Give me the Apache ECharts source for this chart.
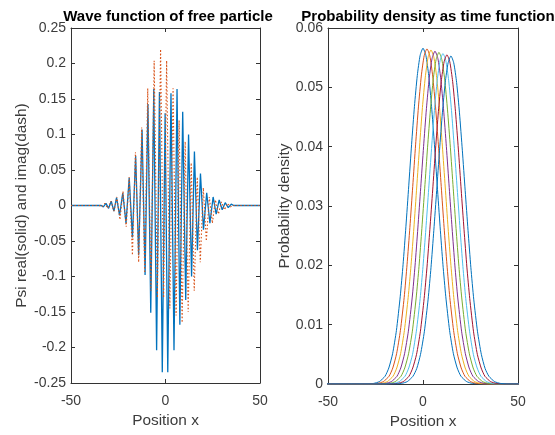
<!DOCTYPE html>
<html><head><meta charset="utf-8">
<script src="https://cdn.jsdelivr.net/npm/echarts/dist/echarts.min.js"></script>
<style>html,body{margin:0;padding:0;background:#fff}#c{width:555px;height:435px}</style>
</head><body><div id="c"></div>
<script>
// ---- Left panel: wave function (real solid, imag dotted) ----
const realX = [-50, -34, -32.9, -31.5, -30.1, -28.7, -27.3, -25.9, -24.3, -22.6, -20.9, -19.2, -17.5, -15.8, -14.2, -12.4, -10.8, -9.3, -7.8, -6.2, -4.7, -3.2, -1.7, -0.2, 1.2, 2.9, 4.5, 6.1, 7.6, 9.1, 10.7, 12.2, 13.8, 15.3, 16.9, 18.5, 20.1, 21.8, 23.5, 25.2, 26.8, 28.4, 30, 31.6, 33.2, 34.8, 36, 50];
const realY = [0, 0, -0.002, 0.003, -0.004, 0.006, -0.008, 0.011, -0.014, 0.018, -0.025, 0.039, -0.045, 0.07, -0.07, 0.107, -0.098, 0.143, -0.151, 0.164, -0.204, 0.16, -0.235, 0.13, -0.235, 0.158, -0.204, 0.164, -0.168, 0.132, -0.133, 0.10, -0.1, 0.076, -0.063, 0.045, -0.034, 0.018, -0.025, 0.012, -0.012, 0.008, -0.006, 0.004, -0.003, 0.002, 0, 0];
const imagX = [-50, -35, -33.7, -32.1, -30.5, -28.9, -27.3, -25.7, -24.1, -22.5, -20.8, -19.2, -17.5, -15.9, -14.2, -12.6, -11.0, -9.4, -7.7, -6.0, -4.3, -2.6, -1.0, 0.6, 2.3, 4.0, 5.6, 7.2, 8.8, 10.4, 12.0, 13.6, 15.2, 16.8, 18.4, 20.0, 21.6, 23.2, 24.8, 26.4, 28.0, 29.6, 31.2, 32.8, 34.4, 35.5, 50];
const imagY = [0, 0, -0.002, 0.003, -0.004, 0.006, -0.008, 0.012, -0.02, 0.02, -0.03, 0.04, -0.07, 0.075, -0.08, 0.11, -0.095, 0.165, -0.12, 0.204, -0.13, 0.22, -0.13, 0.204, -0.145, 0.165, -0.155, 0.12, -0.165, 0.09, -0.15, 0.06, -0.12, 0.04, -0.08, 0.025, -0.05, 0.012, -0.025, 0.008, -0.012, 0.005, -0.006, 0.003, -0.002, 0, 0];

// ---- Right panel: probability density at successive times ----
// half-profiles (value at |x - center| = offset), one per time step
const densityOffsets = [0, 1.5, 3, 4.5, 6, 7.5, 9, 10.5, 12, 14, 16, 18, 20, 23, 26, 30, 80];
const densityCenters = [0, 2.1, 4.2, 6.3, 8.4, 10.5, 12.6, 14.7];
const density1 = [0.0566, 0.0554, 0.0520, 0.0468, 0.0404, 0.0334, 0.0265, 0.0201, 0.0147, 0.0090, 0.0051, 0.0027, 0.0013, 0.0004, 0.0001, 0, 0];
const density2 = [0.0565, 0.0553, 0.0519, 0.0467, 0.0403, 0.0333, 0.0264, 0.0201, 0.0146, 0.0090, 0.0051, 0.0027, 0.0013, 0.0004, 0.0001, 0, 0];
const density3 = [0.0563, 0.0551, 0.0517, 0.0466, 0.0401, 0.0332, 0.0263, 0.0200, 0.0146, 0.0090, 0.0051, 0.0027, 0.0013, 0.0004, 0.0001, 0, 0];
const density4 = [0.0561, 0.0549, 0.0516, 0.0464, 0.0400, 0.0331, 0.0263, 0.0199, 0.0145, 0.0089, 0.0051, 0.0027, 0.0013, 0.0004, 0.0001, 0, 0];
const density5 = [0.0559, 0.0547, 0.0514, 0.0462, 0.0399, 0.0330, 0.0262, 0.0198, 0.0145, 0.0089, 0.0051, 0.0027, 0.0013, 0.0004, 0.0001, 0, 0];
const density6 = [0.0557, 0.0545, 0.0512, 0.0461, 0.0397, 0.0329, 0.0261, 0.0198, 0.0144, 0.0089, 0.0050, 0.0027, 0.0013, 0.0004, 0.0001, 0, 0];
const density7 = [0.0555, 0.0543, 0.0510, 0.0459, 0.0396, 0.0327, 0.0260, 0.0197, 0.0144, 0.0088, 0.0050, 0.0027, 0.0013, 0.0004, 0.0001, 0, 0];
const density8 = [0.0553, 0.0541, 0.0508, 0.0457, 0.0394, 0.0326, 0.0259, 0.0196, 0.0143, 0.0088, 0.0050, 0.0026, 0.0013, 0.0004, 0.0001, 0, 0];
const densityCurves = [density1, density2, density3, density4, density5, density6, density7, density8];
const lineColors = ['#0072BD', '#D95319', '#EDB120', '#7E2F8E', '#77AC30', '#4DBEEE', '#A2142F', '#0072BD'];

const xTickValues = [-50, 0, 50];
const leftYRange = [-0.25, 0.25, 0.05];
const rightYRange = [0, 0.06, 0.01];

const FONT = '"Liberation Sans", Arial, Helvetica, sans-serif';
const AX = '#333333';
const TXT = '#3c3c3c';

function pairs(xs, ys) { return xs.map((x, i) => [x, ys[i]]); }
function curveData(center, half) {
  const out = [];
  for (let i = densityOffsets.length - 1; i > 0; i--) out.push([center - densityOffsets[i], half[i]]);
  for (let i = 0; i < densityOffsets.length; i++) out.push([center + densityOffsets[i], half[i]]);
  return out;
}
const fmt = v => String(+v.toFixed(2));

function xAx(grid, top, name) {
  return {
    type: 'value', gridIndex: grid, position: top ? 'top' : 'bottom',
    min: xTickValues[0], max: xTickValues[2], interval: xTickValues[1] - xTickValues[0],
    axisLine: { show: true, onZero: false, lineStyle: { color: AX, width: 1 } },
    axisTick: { show: true, inside: true, length: 4, lineStyle: { color: AX } },
    axisLabel: { show: !top, margin: 11, color: TXT, fontSize: 14, fontFamily: FONT },
    splitLine: { show: false },
    name: top ? '' : name, nameLocation: 'middle', nameGap: 28,
    nameTextStyle: { color: TXT, fontSize: 15.4, fontFamily: FONT }
  };
}
function yAx(grid, right, range, name, gap) {
  return {
    type: 'value', gridIndex: grid, position: right ? 'right' : 'left',
    min: range[0], max: range[1], interval: range[2],
    axisLine: { show: true, onZero: false, lineStyle: { color: AX, width: 1 } },
    axisTick: { show: true, inside: true, length: 4, lineStyle: { color: AX } },
    axisLabel: { show: !right, margin: 5, color: TXT, fontSize: 14, fontFamily: FONT, formatter: fmt },
    splitLine: { show: false },
    name: right ? '' : name, nameLocation: 'middle', nameGap: gap, nameRotate: 90,
    nameTextStyle: { color: TXT, fontSize: 15.4, fontFamily: FONT }
  };
}

const series = [
  { type: 'line', xAxisIndex: 0, yAxisIndex: 0, data: pairs(realX, realY), showSymbol: false, symbol: 'none',
    lineStyle: { color: '#0072BD', width: 1.3 }, z: 2 },
  { type: 'line', xAxisIndex: 0, yAxisIndex: 0, data: pairs(imagX, imagY), showSymbol: false, symbol: 'none',
    lineStyle: { color: '#D95319', width: 1.1, type: [1.5, 2] }, z: 3 }
];
densityCurves.forEach((c, k) => {
  series.push({ type: 'line', xAxisIndex: 2, yAxisIndex: 2, data: curveData(densityCenters[k], c),
    showSymbol: false, symbol: 'none', smooth: 0.2, lineStyle: { color: lineColors[k], width: 1 }, z: 2 + k });
});

const chart = echarts.init(document.getElementById('c'), null, { renderer: 'canvas' });
chart.setOption({
  animation: false,
  backgroundColor: '#ffffff',
  title: [
    { text: 'Wave function of free particle', left: 163, top: 4, textAlign: 'center',
      textStyle: { fontFamily: FONT, fontWeight: 'bold', fontSize: 15, color: '#000' } },
    { text: 'Probability density as time function', left: 423, top: 4, textAlign: 'center',
      textStyle: { fontFamily: FONT, fontWeight: 'bold', fontSize: 15, color: '#000' } }
  ],
  grid: [
    { left: 71, right: 295, top: 28, bottom: 52 },
    { left: 328, right: 37, top: 28, bottom: 51 }
  ],
  xAxis: [xAx(0, false, 'Position x'), xAx(0, true), xAx(1, false, 'Position x'), xAx(1, true)],
  yAxis: [yAx(0, false, leftYRange, 'Psi real(solid) and imag(dash)', 42), yAx(0, true, leftYRange),
          yAx(1, false, rightYRange, 'Probability density', 35), yAx(1, true, rightYRange)],
  series: series
});
</script></body></html>
